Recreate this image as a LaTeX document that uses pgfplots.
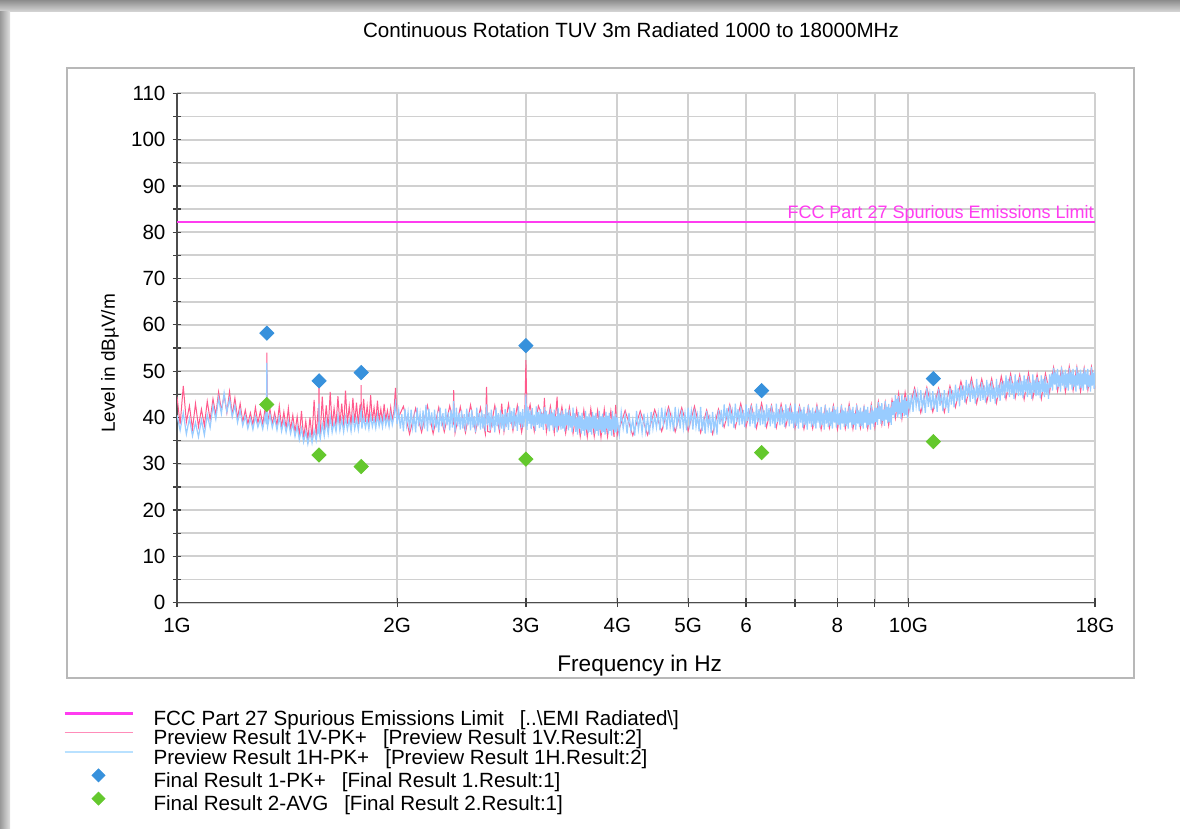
\documentclass[border=0pt]{standalone}
\usepackage{fontspec}
\setmainfont{Liberation Sans}
\usepackage{pgfplots}
\usepackage{pgfplotstable}
\pgfplotsset{compat=1.18}
\definecolor{limitc}{RGB}{255,60,240}
\definecolor{pinkc}{RGB}{255,90,140}
\definecolor{pinkl}{RGB}{255,140,185}
\definecolor{lbluec}{RGB}{153,204,255}
\definecolor{lbluel}{RGB}{185,225,255}
\definecolor{bluem}{RGB}{55,145,220}
\definecolor{greenm}{RGB}{100,200,45}
\definecolor{gridc}{RGB}{208,208,208}

\pgfplotstableread{
f v
1.00 82.2
18.0 82.2
}\limitdata

\pgfplotstableread{
f v
1.00 44.5
1.01 38.5
1.02 46.8
1.03 39.0
1.04 42.5
1.05 37.5
1.06 43.0
1.07 38.0
1.08 41.8
1.09 38.2
1.10 43.5
1.11 39.5
1.12 44.0
1.13 40.5
1.14 45.5
1.15 41.5
1.16 44.8
1.17 41.0
1.18 45.6
1.19 40.5
1.20 44.2
1.21 39.8
1.22 43.0
1.23 39.0
1.24 41.6
1.25 38.6
1.26 41.0
1.27 38.4
1.28 42.2
1.29 38.8
1.30 41.3
1.31 38.5
1.32 42.0
1.325 39.0
1.327 54.0
1.329 39.2
1.33 38.8
1.34 41.8
1.35 38.6
1.36 41.0
1.37 38.2
1.38 42.5
1.39 37.8
1.40 41.2
1.41 37.6
1.42 42.0
1.43 37.3
1.44 40.5
1.45 36.8
1.46 40.2
1.47 36.0
1.48 41.4
1.49 35.5
1.50 39.2
1.51 35.2
1.52 40.0
1.53 35.6
1.54 43.8
1.55 36.0
1.56 42.0
1.563 37.0
1.564 47.7
1.565 37.0
1.57 36.5
1.58 44.5
1.59 37.2
1.60 42.6
1.61 37.5
1.62 45.5
1.63 38.0
1.64 42.0
1.65 38.2
1.66 44.6
1.67 38.4
1.68 43.0
1.69 38.0
1.70 45.8
1.71 38.6
1.72 42.4
1.73 38.2
1.74 44.2
1.75 38.8
1.76 43.2
1.77 38.5
1.78 42.8
1.785 39.0
1.786 47.0
1.787 39.0
1.79 38.9
1.80 44.0
1.81 39.0
1.82 42.5
1.83 38.7
1.84 44.8
1.85 39.2
1.86 42.1
1.87 38.9
1.88 43.6
1.89 39.3
1.90 41.8
1.91 39.0
1.92 42.9
1.93 39.4
1.94 41.5
1.95 39.1
1.96 42.2
1.97 39.5
1.98 41.3
1.99 46.4
2.00 39.4
2.04 42.4
2.08 36.4
2.12 42.0
2.16 36.8
2.20 42.6
2.24 36.5
2.28 42.2
2.32 36.9
2.36 42.5
2.385 39.0
2.39 45.9
2.395 39.0
2.40 36.6
2.44 42.3
2.48 36.7
2.52 42.7
2.56 36.9
2.60 42.1
2.64 36.5
2.65 46.6
2.66 37.0
2.68 36.8
2.72 42.6
2.76 37.0
2.78 43.0
2.80 36.9
2.84 42.9
2.88 37.1
2.92 42.6
2.96 36.8
2.99 41.0
3.00 52.4
3.01 39.8
3.04 42.8
3.08 37.0
3.12 42.5
3.17 39.8
3.18 44.2
3.19 39.8
3.20 36.9
3.24 42.4
3.28 36.7
3.31 44.5
3.32 37.2
3.36 42.3
3.40 36.6
3.44 42.2
3.48 36.5
3.52 41.7
3.56 35.9
3.60 41.6
3.64 35.8
3.68 41.9
3.72 35.9
3.76 41.5
3.80 35.7
3.84 41.8
3.88 35.9
3.92 41.4
3.96 35.8
3.98 42.7
4.00 36.2
4.1 41.5
4.2 36.1
4.3 41.4
4.4 36.2
4.5 41.7
4.6 37.0
4.7 42.3
4.8 36.9
4.9 42.1
5.0 37.1
5.1 42.4
5.2 36.7
5.3 41.6
5.4 36.4
5.5 41.8
5.6 37.9
5.7 42.8
5.8 37.8
5.9 43.0
6.0 38.0
6.1 42.7
6.2 37.7
6.3 43.1
6.4 37.9
6.5 42.6
6.6 37.8
6.7 42.9
6.8 38.0
6.9 42.7
7.0 37.7
7.1 42.5
7.2 37.5
7.3 42.4
7.4 37.6
7.5 42.7
7.6 37.4
7.7 42.3
7.8 37.7
7.9 42.6
8.0 37.4
8.1 42.4
8.2 37.6
8.3 42.9
8.4 37.5
8.5 42.5
8.6 37.7
8.7 42.3
8.8 37.6
8.9 42.8
9.0 37.8
9.1 43.4
9.2 38.4
9.3 43.3
9.4 38.3
9.5 43.8
9.6 39.8
9.7 45.2
9.8 39.7
9.9 45.4
10.0 40.9
10.2 46.4
10.4 41.0
10.6 46.5
10.8 41.2
11.0 46.3
11.2 41.1
11.4 46.8
11.6 42.2
11.8 47.8
12.0 43.2
12.2 48.5
12.4 43.0
12.6 48.3
12.8 43.3
13.0 48.4
13.2 43.1
13.4 48.9
13.6 44.0
13.8 49.4
14.0 44.2
14.2 49.2
14.4 43.9
14.6 49.6
14.8 44.1
15.0 49.3
15.2 44.0
15.4 49.5
15.6 45.4
15.8 50.8
16.0 45.7
16.2 50.6
16.4 45.5
16.6 51.0
16.8 45.8
17.0 50.9
17.2 45.6
17.4 50.7
17.6 45.9
17.8 50.9
18.0 46.2
}\pinkdata

\pgfplotstableread{
f v
1.00 40.5
1.01 37.2
1.02 41.0
1.03 36.4
1.04 39.8
1.05 36.0
1.06 38.9
1.07 35.8
1.08 39.5
1.09 36.2
1.10 40.6
1.11 37.8
1.12 42.5
1.13 39.6
1.14 44.2
1.15 40.8
1.16 45.3
1.17 41.2
1.18 44.0
1.19 40.1
1.20 42.6
1.21 38.9
1.22 41.5
1.23 38.2
1.24 40.3
1.25 37.6
1.26 39.8
1.27 37.4
1.28 40.2
1.29 37.9
1.30 39.6
1.31 37.5
1.32 40.4
1.325 38.5
1.327 51.8
1.329 38.8
1.33 38.0
1.34 40.6
1.35 37.8
1.36 39.9
1.37 37.3
1.38 40.1
1.39 37.0
1.40 39.4
1.41 36.8
1.42 39.2
1.43 36.5
1.44 38.7
1.45 35.9
1.46 38.1
1.47 35.2
1.48 37.6
1.49 34.7
1.50 37.0
1.51 34.3
1.52 36.8
1.53 34.5
1.54 37.2
1.55 35.0
1.56 38.0
1.563 36.5
1.564 43.0
1.565 36.5
1.57 35.4
1.58 38.6
1.59 36.0
1.60 39.3
1.61 36.4
1.62 40.1
1.63 36.8
1.64 39.0
1.65 37.0
1.66 40.4
1.67 37.2
1.68 39.6
1.69 36.9
1.70 40.0
1.71 37.4
1.72 39.5
1.73 37.0
1.74 40.3
1.75 37.5
1.76 39.7
1.77 37.3
1.78 40.2
1.786 41.5
1.79 37.6
1.80 40.0
1.81 37.8
1.82 39.6
1.83 37.5
1.84 40.4
1.85 38.0
1.86 39.8
1.87 37.7
1.88 40.5
1.89 38.1
1.90 39.9
1.91 37.9
1.92 40.6
1.93 38.3
1.94 40.1
1.95 38.0
1.96 40.7
1.97 38.4
1.98 40.2
1.99 43.0
2.00 38.6
2.01 41.5
2.02 37.6
2.03 40.7
2.04 37.0
2.05 41.9
2.06 38.3
2.07 41.1
2.08 37.2
2.09 41.7
2.10 37.8
2.11 40.3
2.12 36.8
2.13 42.1
2.14 38.1
2.15 40.9
2.16 37.4
2.17 41.5
2.18 37.6
2.19 42.7
2.20 37.0
2.21 41.9
2.22 38.3
2.23 41.1
2.24 37.2
2.25 41.7
2.26 37.8
2.27 40.3
2.28 36.8
2.29 42.1
2.30 38.1
2.31 40.9
2.32 37.4
2.33 41.9
2.34 38.3
2.35 41.1
2.36 37.2
2.37 41.7
2.38 37.8
2.39 43.5
2.40 36.8
2.41 42.1
2.42 38.1
2.43 40.9
2.44 37.4
2.45 41.5
2.46 37.6
2.47 40.7
2.48 37.0
2.49 41.9
2.50 38.3
2.51 41.1
2.52 37.2
2.53 41.7
2.54 37.8
2.55 40.3
2.56 36.8
2.57 42.1
2.58 38.1
2.59 40.9
2.60 37.4
2.61 41.5
2.62 37.6
2.63 40.7
2.64 37.0
2.65 42.8
2.66 38.3
2.67 41.1
2.68 37.2
2.69 41.7
2.70 37.8
2.71 40.3
2.72 36.8
2.73 42.1
2.74 38.1
2.75 40.9
2.76 37.4
2.77 41.5
2.78 37.6
2.79 40.7
2.80 37.0
2.81 41.8
2.82 37.9
2.83 41.0
2.84 37.3
2.85 42.2
2.86 38.6
2.87 41.4
2.88 37.5
2.89 42.0
2.90 38.1
2.91 40.6
2.92 37.1
2.93 42.4
2.94 38.4
2.95 41.2
2.96 37.7
2.97 41.8
2.98 37.9
2.99 41.0
2.995 40.5
3.00 45.0
3.005 40.4
3.01 37.3
3.02 42.2
3.03 38.6
3.04 41.4
3.05 37.5
3.06 42.0
3.07 38.1
3.08 40.6
3.09 37.1
3.10 42.4
3.11 38.4
3.12 41.2
3.13 37.7
3.14 41.8
3.15 37.9
3.16 41.0
3.17 37.3
3.18 42.2
3.19 38.6
3.20 41.4
3.21 37.6
3.22 40.7
3.23 37.0
3.24 41.9
3.25 38.3
3.26 41.1
3.27 37.2
3.28 41.7
3.29 37.8
3.30 40.3
3.31 36.8
3.32 42.1
3.33 38.1
3.34 40.9
3.35 37.4
3.36 41.5
3.37 37.6
3.38 40.7
3.39 37.0
3.40 41.9
3.41 38.3
3.42 41.1
3.43 37.2
3.44 41.7
3.45 37.8
3.46 40.3
3.47 36.8
3.48 42.1
3.49 38.1
3.50 40.9
3.51 36.9
3.52 40.0
3.53 36.3
3.54 41.2
3.55 37.6
3.56 40.4
3.57 36.5
3.58 41.0
3.59 37.1
3.60 39.6
3.61 36.1
3.62 41.4
3.63 37.4
3.64 40.2
3.65 36.7
3.66 40.8
3.67 36.9
3.68 40.0
3.69 36.3
3.70 41.2
3.71 37.6
3.72 40.4
3.73 36.5
3.74 41.0
3.75 37.1
3.76 39.6
3.77 36.1
3.78 41.4
3.79 37.4
3.80 40.2
3.81 36.7
3.82 40.8
3.83 36.9
3.84 40.0
3.85 36.3
3.86 41.2
3.87 37.6
3.88 40.4
3.89 36.5
3.90 41.0
3.91 37.1
3.92 39.6
3.93 36.1
3.94 41.4
3.95 37.4
3.96 40.2
3.97 36.7
3.98 40.8
3.99 36.9
4.000 40.0
4.025 36.3
4.050 41.2
4.075 37.6
4.100 40.4
4.125 36.5
4.150 41.0
4.175 37.1
4.200 39.6
4.225 36.1
4.250 41.4
4.275 37.4
4.300 40.2
4.325 36.7
4.350 40.8
4.375 36.9
4.400 40.0
4.425 36.3
4.450 41.2
4.475 37.6
4.500 40.4
4.525 37.8
4.550 40.9
4.575 37.2
4.600 42.1
4.625 38.5
4.650 41.3
4.675 37.4
4.700 41.9
4.725 38.0
4.750 40.5
4.775 37.0
4.800 42.3
4.825 38.3
4.850 41.1
4.875 37.6
4.900 41.7
4.925 37.8
4.950 40.9
4.975 37.2
5.000 42.1
5.025 38.5
5.050 41.3
5.075 37.4
5.100 41.9
5.125 38.0
5.150 40.5
5.175 37.0
5.200 42.3
5.225 37.1
5.250 40.2
5.275 36.5
5.300 41.4
5.325 37.8
5.350 40.6
5.375 36.7
5.400 41.2
5.425 37.3
5.450 39.8
5.475 36.3
5.500 41.6
5.525 38.5
5.550 41.6
5.575 37.9
5.600 42.8
5.625 39.2
5.650 42.0
5.675 38.1
5.700 42.6
5.725 38.7
5.750 41.2
5.775 37.7
5.800 43.0
5.825 39.0
5.850 41.8
5.875 38.3
5.900 42.4
5.925 38.5
5.950 41.6
5.975 37.9
6.000 42.8
6.025 39.2
6.050 42.0
6.075 38.1
6.100 42.6
6.125 38.7
6.150 41.2
6.175 37.7
6.200 43.0
6.225 39.0
6.250 41.8
6.275 38.3
6.300 42.4
6.325 38.5
6.350 41.6
6.375 37.9
6.400 42.8
6.425 39.2
6.450 42.0
6.475 38.1
6.500 42.6
6.525 38.7
6.550 41.2
6.575 37.7
6.600 43.0
6.625 39.0
6.650 41.8
6.675 38.3
6.700 42.4
6.725 38.5
6.750 41.6
6.775 37.9
6.800 42.8
6.825 39.2
6.850 42.0
6.875 38.1
6.900 42.6
6.925 38.7
6.950 41.2
6.975 37.7
7.000 43.0
7.025 38.2
7.050 41.3
7.075 37.6
7.100 42.5
7.125 38.9
7.150 41.7
7.175 37.8
7.200 42.3
7.225 38.4
7.250 40.9
7.275 37.4
7.300 42.7
7.325 38.7
7.350 41.5
7.375 38.0
7.400 42.1
7.425 38.2
7.450 41.3
7.475 37.6
7.500 42.5
7.525 38.9
7.550 41.7
7.575 37.8
7.600 42.3
7.625 38.4
7.650 40.9
7.675 37.4
7.700 42.7
7.725 38.7
7.750 41.5
7.775 38.0
7.800 42.1
7.825 38.2
7.850 41.3
7.875 37.6
7.900 42.5
7.925 38.9
7.950 41.7
7.975 37.8
8.000 42.3
8.025 38.4
8.050 40.9
8.075 37.4
8.100 42.7
8.125 38.7
8.150 41.5
8.175 38.0
8.200 42.1
8.225 38.2
8.250 41.3
8.275 37.6
8.300 42.5
8.325 38.9
8.350 41.7
8.375 37.8
8.400 42.3
8.425 38.4
8.450 40.9
8.475 37.4
8.500 42.7
8.525 38.7
8.550 41.5
8.575 38.0
8.600 42.1
8.625 38.2
8.650 41.3
8.675 37.6
8.700 42.5
8.725 38.9
8.750 41.7
8.775 37.8
8.800 42.3
8.825 38.4
8.850 40.9
8.875 37.4
8.900 42.7
8.925 38.7
8.950 41.5
8.975 38.0
9.000 42.1
9.025 39.0
9.050 42.1
9.075 38.4
9.100 43.3
9.125 39.7
9.150 42.5
9.175 38.6
9.200 43.1
9.225 39.2
9.250 41.7
9.275 38.2
9.300 43.5
9.325 39.5
9.350 42.3
9.375 38.8
9.400 42.9
9.425 39.0
9.450 42.1
9.475 38.4
9.500 43.3
9.525 40.5
9.550 43.6
9.575 39.9
9.600 44.8
9.625 41.2
9.650 44.0
9.675 40.1
9.700 44.6
9.725 40.7
9.750 43.2
9.775 39.7
9.800 45.0
9.825 41.0
9.850 43.8
9.875 40.3
9.900 44.4
9.925 40.5
9.950 43.6
9.975 39.9
10.00 44.8
10.05 41.8
10.10 44.9
10.15 41.2
10.20 46.1
10.25 42.5
10.30 45.3
10.35 41.4
10.40 45.9
10.45 42.0
10.50 44.5
10.55 41.0
10.60 46.3
10.65 42.3
10.70 45.1
10.75 41.6
10.80 45.7
10.85 41.8
10.90 44.9
10.95 41.2
11.00 46.1
11.05 42.5
11.10 45.3
11.15 41.4
11.20 45.9
11.25 42.0
11.30 44.5
11.35 41.0
11.40 46.3
11.45 42.8
11.50 45.9
11.55 42.2
11.60 47.1
11.65 43.5
11.70 46.3
11.75 42.4
11.80 46.9
11.85 43.8
11.90 46.9
11.95 43.2
12.00 48.1
12.05 44.5
12.10 47.3
12.15 43.4
12.20 47.9
12.25 44.0
12.30 46.5
12.35 43.0
12.40 48.3
12.45 44.3
12.50 47.1
12.55 43.6
12.60 47.7
12.65 43.8
12.70 46.9
12.75 43.2
12.80 48.1
12.85 44.5
12.90 47.3
12.95 43.4
13.00 47.9
13.05 44.0
13.10 46.5
13.15 43.0
13.20 48.3
13.25 44.3
13.30 47.1
13.35 43.6
13.40 47.7
13.45 44.8
13.50 47.9
13.55 44.2
13.60 49.1
13.65 45.5
13.70 48.3
13.75 44.4
13.80 48.9
13.85 45.0
13.90 47.5
13.95 44.0
14.00 49.3
14.05 45.3
14.10 48.1
14.15 44.6
14.20 48.7
14.25 44.8
14.30 47.9
14.35 44.2
14.40 49.1
14.45 45.5
14.50 48.3
14.55 44.4
14.60 48.9
14.65 45.0
14.70 47.5
14.75 44.0
14.80 49.3
14.85 45.3
14.90 48.1
14.95 44.6
15.00 48.7
15.05 44.8
15.10 47.9
15.15 44.2
15.20 49.1
15.25 45.5
15.30 48.3
15.35 44.4
15.40 48.9
15.45 45.0
15.50 47.5
15.55 44.0
15.60 49.3
15.65 46.4
15.70 49.5
15.75 45.8
15.80 50.7
15.85 47.1
15.90 49.9
15.95 46.0
16.00 50.5
16.05 46.6
16.10 49.1
16.15 45.6
16.20 50.9
16.25 46.9
16.30 49.7
16.35 46.2
16.40 50.3
16.45 46.4
16.50 49.5
16.55 45.8
16.60 50.7
16.65 47.1
16.70 49.9
16.75 46.0
16.80 50.5
16.85 46.6
16.90 49.1
16.95 45.6
17.00 50.9
17.05 46.9
17.10 49.7
17.15 46.2
17.20 50.3
17.25 46.4
17.30 49.5
17.35 45.8
17.40 50.7
17.45 47.1
17.50 49.9
17.55 46.0
17.60 50.5
17.65 46.6
17.70 49.1
17.75 45.6
17.80 50.9
17.85 46.9
17.90 49.7
17.95 46.2
18.00 50.3
}\bluedata

\pgfplotstableread{
f v
1.327 58.2
1.564 47.9
1.786 49.7
3.000 55.5
6.302 45.8
10.82 48.4
}\pkdata

\pgfplotstableread{
f v
1.327 42.8
1.564 31.9
1.786 29.4
3.000 31.0
6.302 32.4
10.82 34.8
}\avgdata

\newcommand{\lf}{\fontsize{10.3}{12}\selectfont}

\begin{document}
\begin{tikzpicture}[x=1pt,y=1pt]
\useasboundingbox (0,0) rectangle (590,414.5);
\fill[white] (0,0) rectangle (590,414.5);
% window edges
\shade[top color=black!45, bottom color=black!15] (0,408.5) rectangle (590,414.5);
\shade[left color=black!40, right color=black!12] (0,0) rectangle (5,408.5);
% chart frame
\draw[black!28, line width=0.9pt] (33.5,75.5) rectangle (567,380.5);
\node[font=\lf] at (315.5,399.5) {Continuous Rotation TUV 3m Radiated 1000 to 18000MHz};
\begin{semilogxaxis}[
  at={(88.5pt,113.15pt)}, anchor=south west,
  scale only axis, width=459pt, height=254.7pt,
  xmin=1, xmax=18, ymin=0, ymax=110,
  log basis x=10,
  xtick={1,2,3,4,5,6,8,10,18},
  xticklabels={1G,2G,3G,4G,5G,6,8,10G,18G},
  minor xtick={7,9},
  ytick={0,10,...,110},
  minor ytick={5,15,...,105},
  grid=both,
  major grid style={gridc, line width=0.9pt},
  minor grid style={gridc, line width=0.9pt},
  axis x line*=bottom, axis y line*=left,
  axis line style={black!70, line width=0.8pt},
  tick align=center,
  major tick length=4.5pt, minor tick length=4pt,
  tick style={black!75, line width=0.6pt},
  tick label style={font=\lf, black},
  /pgf/number format/assume math mode=true,
  xticklabel style={yshift=-2pt},
  xlabel={Frequency in Hz},
  xlabel style={at={(axis description cs:0.504,-0.124)}, anchor=center, font=\fontsize{11.3}{13}\selectfont},
  ylabel={Level in dBµV/m},
  ylabel style={at={(axis description cs:-0.073,0.47)}, anchor=center, font=\fontsize{9.5}{12}\selectfont},
  legend style={at={(-0.1245,-0.2106)}, anchor=north west, draw=none, fill=none,
     font=\lf, row sep=0pt, inner sep=0pt,
     nodes={inner sep=0.5pt, text height=6.9pt, text depth=1.85pt}},
  legend cell align=left,
  clip=true,
]
\addplot[limitc, line width=1.3pt,
  legend image code/.code={\draw[limitc, line width=1.4pt] (0pt,3.5pt) -- (34pt,3.5pt); \path[draw=none] (0pt,3.5pt) -- (44pt,3.5pt);}]
  table[x=f,y=v] {\limitdata};
\addlegendentry{FCC Part 27 Spurious Emissions Limit\hspace{8pt}[..\textbackslash EMI Radiated\textbackslash]}
\addplot[pinkc, line width=0.5pt,
  legend image code/.code={\draw[pinkl, line width=0.8pt] (0pt,3.5pt) -- (34pt,3.5pt); \path[draw=none] (0pt,3.5pt) -- (44pt,3.5pt);}]
  table[x=f,y=v] {\pinkdata};
\addlegendentry{Preview Result 1V-PK+\hspace{8pt}[Preview Result 1V.Result:2]}
\addplot[lbluec, line width=0.6pt,
  legend image code/.code={\draw[lbluel, line width=1.1pt] (0pt,3.5pt) -- (34pt,3.5pt); \path[draw=none] (0pt,3.5pt) -- (44pt,3.5pt);}]
  table[x=f,y=v] {\bluedata};
\addlegendentry{Preview Result 1H-PK+\hspace{8pt}[Preview Result 1H.Result:2]}
\addplot[only marks, mark=square*, mark size=2.5pt, mark options={rotate=45, fill=bluem, draw=bluem},
  legend image code/.code={\draw[bluem, only marks, mark=square*, mark size=2.3pt, mark options={rotate=45, fill=bluem, draw=bluem}] plot coordinates {(17pt,3.5pt)}; \path[draw=none] (0pt,3.5pt) -- (44pt,3.5pt);}]
  table[x=f,y=v] {\pkdata};
\addlegendentry{Final Result 1-PK+\hspace{8pt}[Final Result 1.Result:1]}
\addplot[only marks, mark=square*, mark size=2.5pt, mark options={rotate=45, fill=greenm, draw=greenm},
  legend image code/.code={\draw[greenm, only marks, mark=square*, mark size=2.3pt, mark options={rotate=45, fill=greenm, draw=greenm}] plot coordinates {(17pt,3.5pt)}; \path[draw=none] (0pt,3.5pt) -- (44pt,3.5pt);}]
  table[x=f,y=v] {\avgdata};
\addlegendentry{Final Result 2-AVG\hspace{8pt}[Final Result 2.Result:1]}
\node[anchor=base east, inner sep=0.5pt, yshift=1.6pt, text=limitc, font=\fontsize{9}{11}\selectfont] at (axis cs:18,82.2) {FCC Part 27 Spurious Emissions Limit};
\end{semilogxaxis}
\end{tikzpicture}
\end{document}
